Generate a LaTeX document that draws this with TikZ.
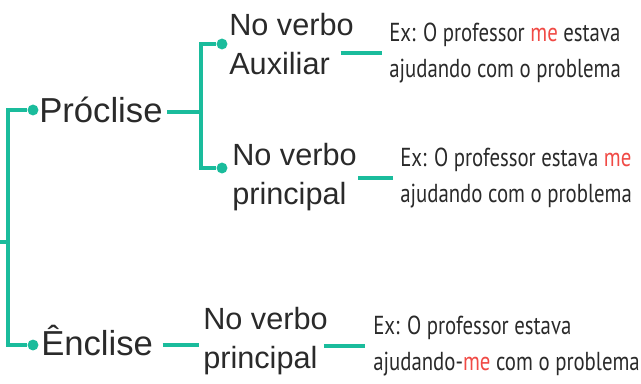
\documentclass[tikz,border=0pt]{standalone}
\usepackage{xcolor}
\usepackage{fontspec}
\setmainfont{Liberation Sans}
\newfontfamily\exfont{PT Sans}[FakeStretch=0.80]
\usetikzlibrary{positioning}
\definecolor{tealline}{HTML}{1ABC9C}
\definecolor{mered}{HTML}{F04A45}
\definecolor{ink}{HTML}{2A2A2A}

\begin{document}
\begin{tikzpicture}[x=0.75pt, y=-0.75pt,
    link/.style={draw=tealline, line width=3pt},
    dot/.style={circle, fill=tealline, inner sep=0pt, minimum size=8.2pt},
    cls/.style={anchor=west, inner sep=0pt, font=\fontsize{26}{30}\selectfont, text=ink},
    verb/.style={anchor=west, inner sep=0pt, align=left, font=\fontsize{23}{29.5}\selectfont, text=ink},
    ex/.style={anchor=west, inner sep=0pt, align=left, font=\exfont\fontsize{19.5}{27}\selectfont, text=ink}
]
\useasboundingbox (0,0) rectangle (641,383);

\coordinate (root) at (0,242);
\coordinate (spine) at (8,242);
\node[dot] (pdot) at (33,110) {};
\node[dot] (edot) at (33,345) {};
\node[cls] (proc) at (39,110) {Próclise};
\node[cls] (encl) at (41,341) {Ênclise};

\coordinate (pbr) at (201,112);
\node[dot] (adot) at (222,44) {};
\node[dot] (bdot) at (222,168) {};
\node[verb] (aux) at (229,44) {No verbo\\Auxiliar};
\node[verb] (prin) at (232,177) {No verbo\\principal};
\node[verb] (eprin) at (203,341) {No verbo\\principal};

\node[ex] (ex1) at (389,53) {Ex: O professor \textcolor{mered}{me} estava\\ajudando com o problema};
\node[ex] (ex2) at (400,178) {Ex: O professor estava \textcolor{mered}{me}\\ajudando com o problema};
\node[ex] (ex3) at (373,346) {Ex: O professor estava\\ajudando-\textcolor{mered}{me} com o problema};

\draw[link] (root) -- (spine);
\draw[link] (spine) |- (pdot);
\draw[link] (spine) |- (edot);
\draw[link] (proc.east |- pbr) ++(4,0) -- (pbr);
\draw[link] (pbr) |- (adot);
\draw[link] (pbr) |- (bdot);
\draw[link] ([xshift=7]encl.east |- edot) -- ([xshift=-3]eprin.west |- edot);

\draw[link] ([xshift=-10]aux.east |- ex1.west) -- ([xshift=-5]ex1.west);
\draw[link] ([xshift=1]prin.east |- ex2.west) -- ([xshift=-5]ex2.west);
\draw[link] ([xshift=-3]eprin.east |- ex3.west) -- ([xshift=-6]ex3.west);
\end{tikzpicture}
\end{document}
